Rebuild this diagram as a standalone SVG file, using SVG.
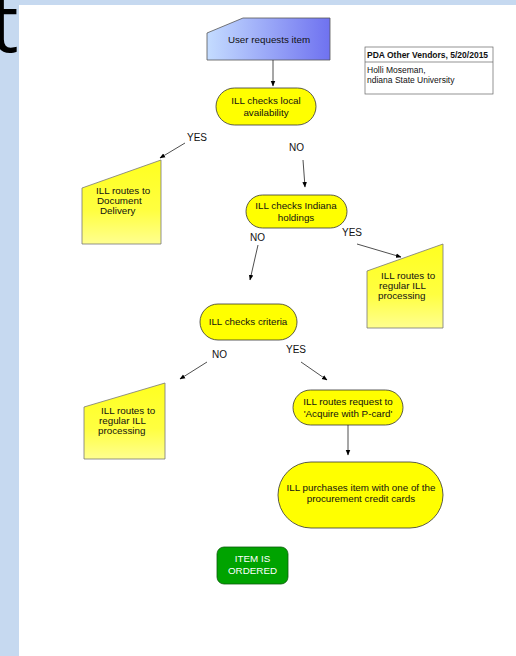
<svg xmlns="http://www.w3.org/2000/svg" width="516" height="656" viewBox="0 0 516 656">
<defs>
<linearGradient id="blueGrad" x1="0" y1="0" x2="1" y2="0">
<stop offset="0" stop-color="#c4dcff"/>
<stop offset="1" stop-color="#6f72f0"/>
</linearGradient>
<linearGradient id="yelGrad" x1="0" y1="0" x2="0" y2="1">
<stop offset="0" stop-color="#ffff20"/>
<stop offset="0.6" stop-color="#ffff40"/>
<stop offset="1" stop-color="#ffff90"/>
</linearGradient>
<marker id="arr" viewBox="0 0 10 10" refX="9" refY="5" markerWidth="7" markerHeight="7" orient="auto-start-reverse">
<path d="M0,1 L10,5 L0,9 z" fill="#000"/>
</marker>
</defs>
<style>
text { font-family: "Liberation Sans", Arial, sans-serif; font-size: 9.8px; fill: #111; }
.lbl { font-size: 10px; }
.term { fill: #ffff00; stroke: #333; stroke-width: 0.8; }
.manual { fill: url(#yelGrad); stroke: #777; stroke-width: 0.8; }
.conn line { stroke: #222; stroke-width: 0.8; marker-end: url(#arr); }
</style>
<rect x="0" y="0" width="516" height="656" fill="#c6d9f0"/>
<rect x="19" y="5" width="497" height="651" fill="#ffffff"/>
<text x="-10" y="52" style="font-family:'Open Sans','DejaVu Sans',sans-serif;font-size:80px;fill:#000">t</text>

<g id="legend">
<rect x="365" y="47" width="128" height="47" fill="#fff" stroke="#666" stroke-width="0.7"/>
<line x1="365" y1="62" x2="493" y2="62" stroke="#666" stroke-width="0.7"/>
<text x="367" y="58" style="font-size:8.5px;font-weight:bold">PDA Other Vendors, 5/20/2015</text>
<text x="367" y="73" style="font-size:8.5px">Holli Moseman,</text>
<text x="367" y="83" style="font-size:8.5px">ndiana State University</text>
</g>

<g id="user-requests">
<path d="M243,18 L330,18 L330,60 L207,60 L207,33 Z" fill="url(#blueGrad)" stroke="#555" stroke-width="0.8"/>
<text x="269" y="43" text-anchor="middle">User requests item</text>
</g>

<g id="check-local">
<rect x="216" y="88" width="100" height="37" rx="18.5" class="term"/>
<text x="266" y="104" text-anchor="middle">ILL checks local</text>
<text x="266" y="116" text-anchor="middle">availability</text>
</g>

<g id="doc-delivery">
<path d="M82,188 L161,160 L161,244 L82,244 Z" class="manual"/>
<text x="96" y="194">ILL routes to</text>
<text x="97" y="204">Document</text>
<text x="100" y="214">Delivery</text>
</g>

<g id="check-indiana">
<rect x="246" y="195" width="101" height="33" rx="16.5" class="term"/>
<text x="296" y="209" text-anchor="middle">ILL checks Indiana</text>
<text x="296" y="221" text-anchor="middle">holdings</text>
</g>

<g id="regular-ill-right">
<path d="M367,271 L443,244 L443,328 L367,328 Z" class="manual"/>
<text x="381" y="279">ILL routes to</text>
<text x="379" y="289">regular ILL</text>
<text x="378" y="299">processing</text>
</g>

<g id="check-criteria">
<rect x="200" y="304" width="97" height="36" rx="18" class="term"/>
<text x="248" y="325" text-anchor="middle">ILL checks criteria</text>
</g>

<g id="regular-ill-left">
<path d="M84,407 L165,383 L165,459 L84,459 Z" class="manual"/>
<text x="101" y="414">ILL routes to</text>
<text x="99" y="424">regular ILL</text>
<text x="98" y="434">processing</text>
</g>

<g id="acquire-pcard">
<rect x="293" y="390" width="110" height="35" rx="17.5" class="term"/>
<text x="348" y="405" text-anchor="middle">ILL routes request to</text>
<text x="348" y="417" text-anchor="middle">'Acquire with P-card'</text>
</g>

<g id="purchase">
<rect x="278" y="462" width="165" height="66" rx="33" class="term"/>
<text x="361" y="491" text-anchor="middle">ILL purchases item with one of the</text>
<text x="361" y="502" text-anchor="middle">procurement credit cards</text>
</g>

<g id="ordered">
<rect x="217" y="547" width="71" height="37" rx="7" fill="#00a300" stroke="#0a5a0a" stroke-width="0.8"/>
<text x="252.5" y="562" text-anchor="middle" style="fill:#fff">ITEM IS</text>
<text x="252.5" y="574" text-anchor="middle" style="fill:#fff">ORDERED</text>
</g>

<g id="connectors" class="conn">
<line x1="273" y1="60" x2="273" y2="86"/>
<line x1="185" y1="143" x2="160" y2="158"/>
<line x1="303" y1="160" x2="305" y2="187"/>
<line x1="258" y1="245" x2="250" y2="280"/>
<line x1="357" y1="244" x2="401" y2="257"/>
<line x1="207" y1="362" x2="180" y2="379"/>
<line x1="301" y1="362" x2="327" y2="380"/>
<line x1="348" y1="425" x2="348" y2="455"/>
</g>

<g id="labels">
<text x="187" y="141" class="lbl">YES</text>
<text x="289" y="151" class="lbl">NO</text>
<text x="250" y="241" class="lbl">NO</text>
<text x="342" y="236" class="lbl">YES</text>
<text x="212" y="358" class="lbl">NO</text>
<text x="286" y="353" class="lbl">YES</text>
</g>
</svg>
